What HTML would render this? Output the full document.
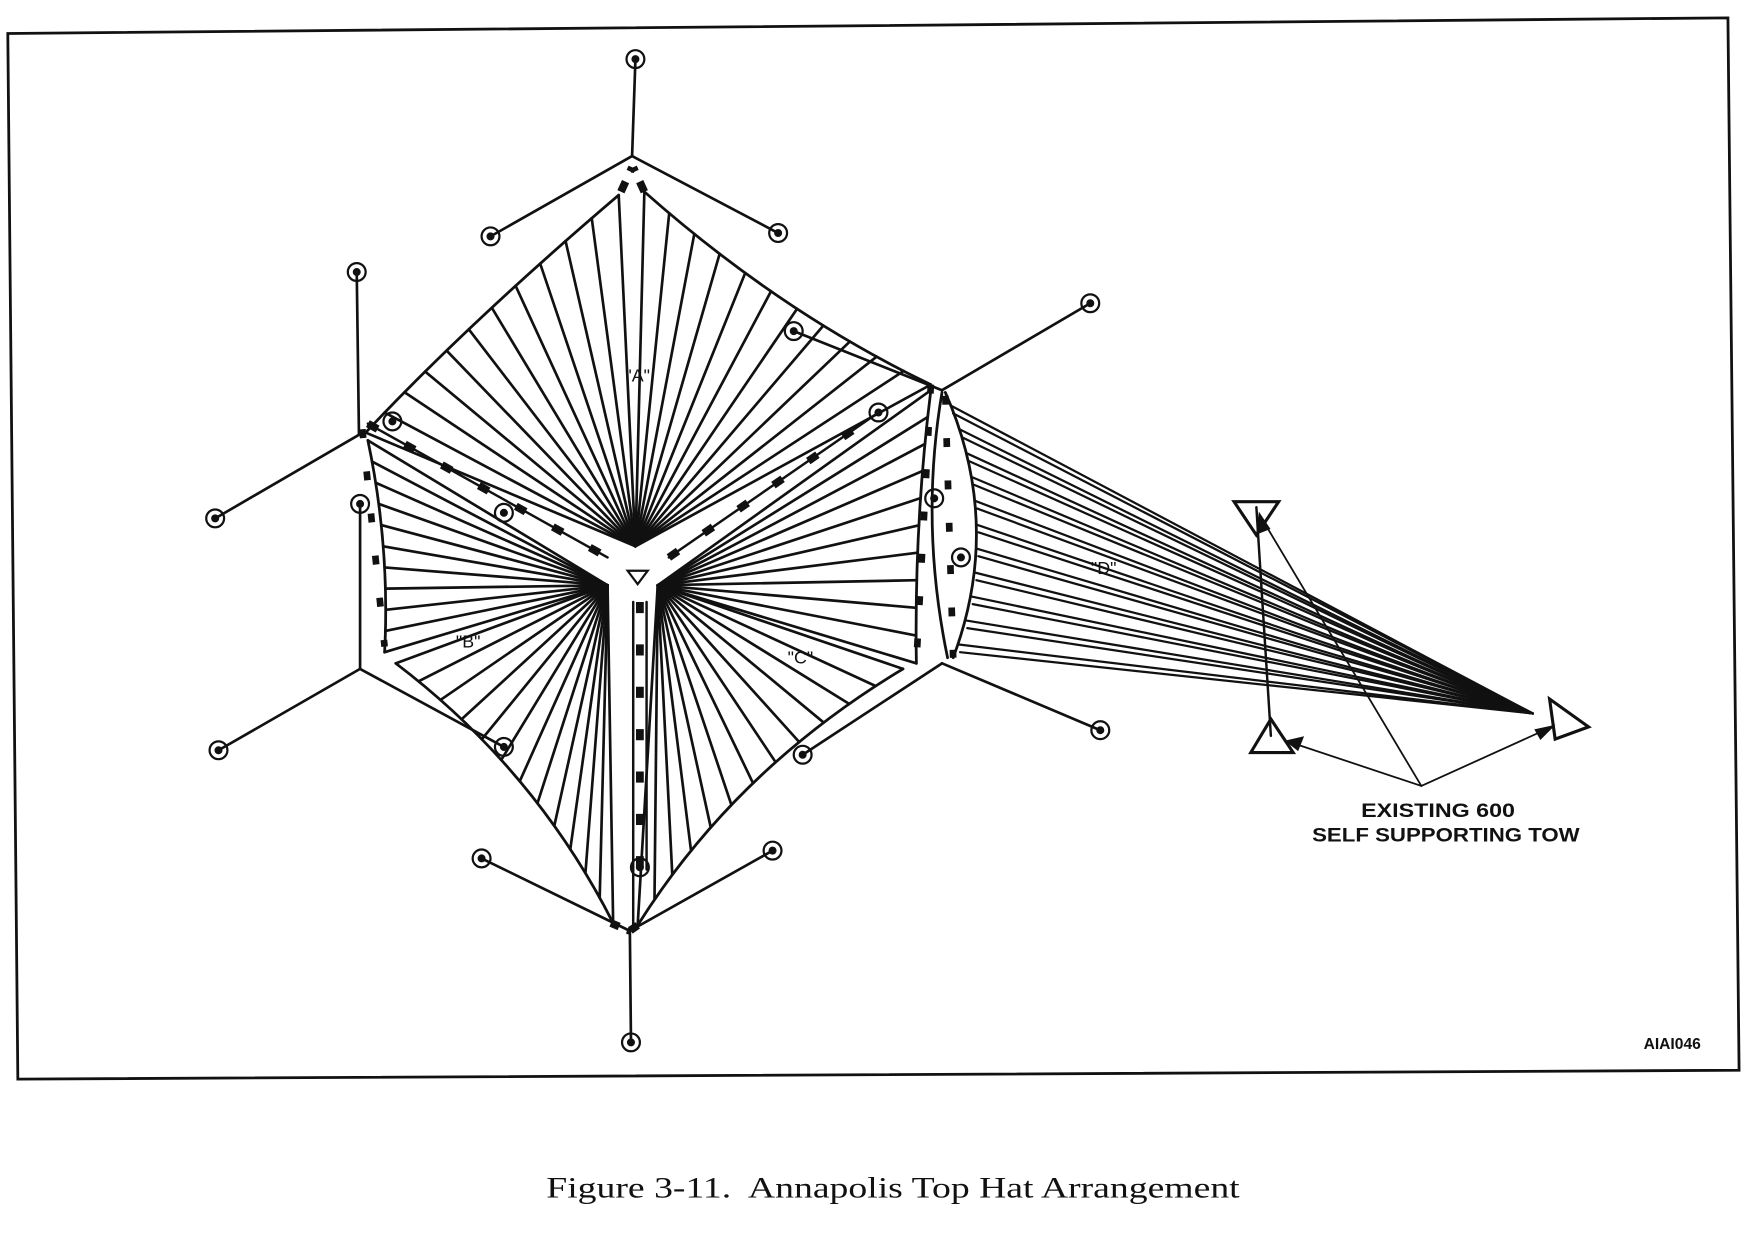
<!DOCTYPE html>
<html><head><meta charset="utf-8"><style>
html,body{margin:0;padding:0;background:#fff}
svg{display:block}
</style></head><body>
<svg id="s" width="1748" height="1233" viewBox="0 0 1568 1106" xmlns="http://www.w3.org/2000/svg" font-family="Liberation Sans, sans-serif">
<polygon points="7,30 1550,16 1560,960 16,968" fill="none" stroke="#111" stroke-width="2.5"/>
<g id="g" stroke="#111" stroke-width="2.2" fill="none" stroke-linecap="round"></g>
<g font-size="16" fill="#111">
<text x="572" y="342" text-anchor="middle">"A"</text>
<text x="420" y="581" text-anchor="middle">"B"</text>
<text x="718" y="595" text-anchor="middle">"C"</text>
<text x="990" y="515" text-anchor="middle">"D"</text>
<text x="1221" y="733" font-size="17" font-weight="bold" textLength="138" lengthAdjust="spacingAndGlyphs">EXISTING 600</text>
<text x="1177" y="755" font-size="17" font-weight="bold" textLength="240" lengthAdjust="spacingAndGlyphs">SELF SUPPORTING TOW</text>
<text x="1500" y="941" text-anchor="middle" font-size="14" font-weight="bold">AIAI046</text>
</g>
<text x="490" y="1074" font-family="Liberation Serif, serif" font-size="27" fill="#111" textLength="622" lengthAdjust="spacingAndGlyphs" xml:space="preserve">Figure 3-11.  Annapolis Top Hat Arrangement</text>
</svg>
<script>
var g=document.getElementById('g'),NS='http://www.w3.org/2000/svg';
function el(t,a){var e=document.createElementNS(NS,t);for(var k in a)e.setAttribute(k,a[k]);g.appendChild(e);return e}
function L(a,b,c,d,w,da){var o={x1:a,y1:b,x2:c,y2:d};if(w)o['stroke-width']=w;if(da){o['stroke-dasharray']=da;o['stroke-linecap']='butt'}el('line',o)}
function Q(p0,c,p2,t){var u=1-t;return[u*u*p0[0]+2*u*t*c[0]+t*t*p2[0],u*u*p0[1]+2*u*t*c[1]+t*t*p2[1]]}
function curve(p0,c,p2){el('path',{d:'M'+p0+' Q'+c+' '+p2,'stroke-width':2.5})}
function fan(h,p0,c,p2,n){curve(p0,c,p2);for(var i=0;i<=n;i++){var p=Q(p0,c,p2,i/n);L(h[0],h[1],p[0],p[1],2.4)}}
function ring(x,y){el('circle',{cx:x,cy:y,r:8,'stroke-width':2});el('circle',{cx:x,cy:y,r:2.5,fill:'#111'})}
var seg=[[567,140,570,53],[567,140,440,212],[567,140,698,209],[322,390,320,244],[322,390,193,465],[323,600,196,673],[323,600,323,452],[323,600,452,670],
[565,835,566,935],[565,835,432,770],[565,835,693,763],[845,595,987,655],[845,595,720,677],[845,350,978,272],[845,350,712,297]];
seg.forEach(function(s){L(s[0],s[1],s[2],s[3],2.4)});
[[570,53],[440,212],[698,209],[320,244],[193,465],[196,673],[323,452],[452,670],[566,935],[432,770],[693,763],[987,655],[720,677],[978,272],[712,297],[352,378],[452,460],[788,370],[838,447],[862,500],[574,778]].forEach(function(r){ring(r[0],r[1])});
fan([570,490],[555,175],[420,290],[328,388],11);
fan([570,490],[578,172],[700,280],[835,345],11);
fan([545,525],[330,395],[350,490],[345,585],10);
fan([545,525],[355,595],[480,690],[550,828],12);
fan([590,525],[835,350],[820,470],[822,595],10);
fan([590,525],[810,600],[660,690],[572,830],12);
L(330,380,545,500,7,'10 28');L(600,500,788,370,7,'10 28');L(574,540,574,778,7,'10 28');
L(330,380,545,500,2.2);L(600,500,788,370,2.2);L(568,540,568,830,2.2);L(580,540,580,780,2.2);
L(557,172,567,150,7,'10 10');L(578,172,568,150,7,'10 10');
L(548,828,565,835,7,'8 8');L(572,830,565,835,7,'8 8');
L(325,385,345,580,6,'8 30');L(835,345,822,595,6,'8 30');L(848,355,855,590,6,'8 30');
el('polygon',{points:'563,512 581,512 572,524',fill:'#fff','stroke-width':2});
curve([845,352],[825,470],[850,590]);curve([848,352],[900,470],[855,590]);
for(var i=0;i<=10;i++){var p=Q([848,352],[900,470],[855,590],0.05+i*0.09);L(p[0],p[1],1375,640,2);L(p[0]+2,p[1]+7,1375,640,2)}
L(1127,455,1140,660,2.2);
el('polygon',{points:'1107,450 1147,450 1127,480','stroke-width':2.8});
el('polygon',{points:'1122,675 1160,675 1140,645','stroke-width':2.8});
el('polygon',{points:'1390,627 1425,652 1395,663','stroke-width':2.8});
L(1275,705,1130,462,1.6);L(1275,705,1155,665,1.6);L(1275,705,1392,652,1.6);
el('polygon',{points:'1130,462 1128,478 1138,474',fill:'#111'});
el('polygon',{points:'1155,665 1168,662 1164,672',fill:'#111'});
el('polygon',{points:'1392,652 1378,655 1382,662',fill:'#111'});
</script>
</body></html>
